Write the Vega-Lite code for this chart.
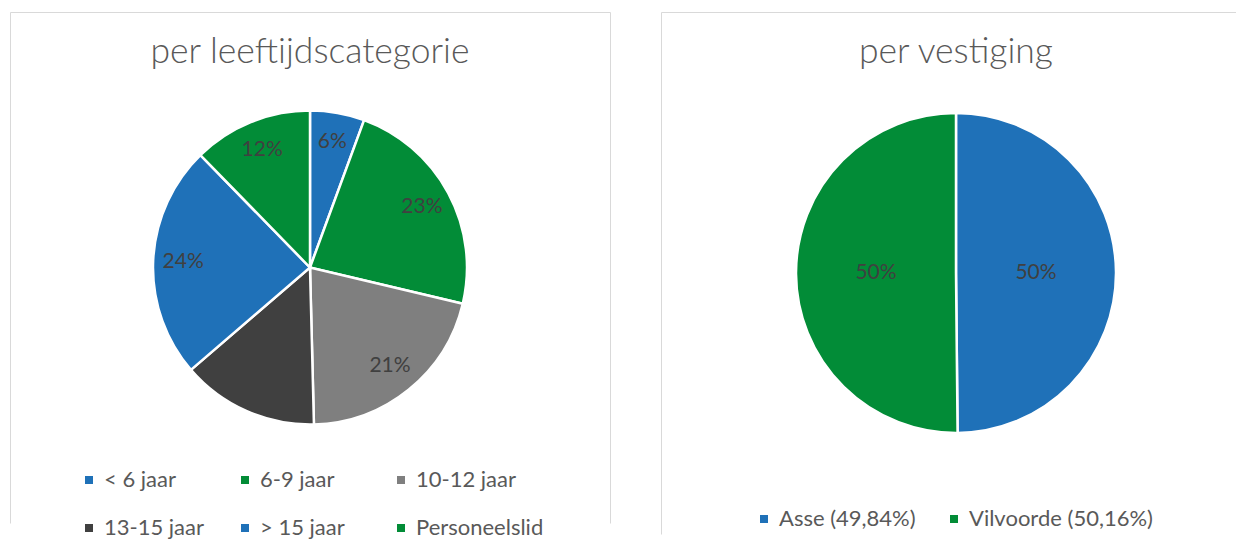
{
  "$schema": "https://vega.github.io/schema/vega-lite/v6.json",
  "background": "white",
  "padding": {"left": 9, "top": 11, "right": 0, "bottom": 0},
  "spacing": 49,
  "config": {
    "font": "Lato",
    "title": {"font": "Lato", "fontSize": 35.5, "fontWeight": 300, "color": "#595959", "anchor": "middle", "frame": "group", "baseline": "middle", "offset": -58},
    "legend": {"labelFont": "Lato", "labelFontSize": 22, "labelColor": "#595959", "symbolType": "square", "symbolSize": 64, "symbolStrokeWidth": 0, "labelOffset": 4, "padding": 0, "title": null, "labelLimit": 300}
  },
  "hconcat": [
    {
      "width": 600,
      "height": 511,
      "view": {"stroke": "#d9d9d9", "strokeWidth": 1, "strokeDash": [1111, 600, 511, 0]},
      "title": {"text": "per leeftijdscategorie"},
      "data": {"values": [
        {"categorie": "< 6 jaar", "aandeel": 0.056, "volgorde": 1},
        {"categorie": "6-9 jaar", "aandeel": 0.231, "volgorde": 2},
        {"categorie": "10-12 jaar", "aandeel": 0.209, "volgorde": 3},
        {"categorie": "13-15 jaar", "aandeel": 0.141, "volgorde": 4},
        {"categorie": "> 15 jaar", "aandeel": 0.240, "volgorde": 5},
        {"categorie": "Personeelslid", "aandeel": 0.123, "volgorde": 6}
      ]},
      "encoding": {
        "theta": {"field": "aandeel", "type": "quantitative", "stack": true},
        "order": {"field": "volgorde", "type": "quantitative"}
      },
      "layer": [
        {
          "mark": {"type": "arc", "outerRadius": 157, "stroke": "white", "strokeWidth": 2.5},
          "encoding": {
            "color": {
              "field": "categorie", "type": "nominal",
              "scale": {
                "domain": ["< 6 jaar", "6-9 jaar", "10-12 jaar", "13-15 jaar", "> 15 jaar", "Personeelslid"],
                "range": ["#1f71b8", "#028c37", "#7f7f7f", "#404040", "#1f71b8", "#028c37"]
              },
              "legend": {"orient": "none", "legendX": 68, "legendY": 457, "columns": 3, "direction": "horizontal", "gridAlign": "all", "columnPadding": 2, "rowPadding": 26}
            }
          }
        },
        {
          "mark": {"type": "text", "radius": 127, "font": "Lato", "fontSize": 21, "color": "#404040"},
          "encoding": {
            "text": {"field": "aandeel", "type": "quantitative", "format": ".0%"}
          }
        }
      ]
    },
    {
      "width": 590,
      "height": 522,
      "view": {"stroke": "#d9d9d9", "strokeWidth": 1, "strokeDash": [1112, 590, 522, 0]},
      "title": {"text": "per vestiging"},
      "data": {"values": [
        {"vestiging": "Asse (49,84%)", "aandeel": 0.4984, "volgorde": 1},
        {"vestiging": "Vilvoorde (50,16%)", "aandeel": 0.5016, "volgorde": 2}
      ]},
      "encoding": {
        "theta": {"field": "aandeel", "type": "quantitative", "stack": true},
        "order": {"field": "volgorde", "type": "quantitative"}
      },
      "layer": [
        {
          "mark": {"type": "arc", "outerRadius": 160, "stroke": "white", "strokeWidth": 2.5},
          "encoding": {
            "color": {
              "field": "vestiging", "type": "nominal",
              "scale": {"domain": ["Asse (49,84%)", "Vilvoorde (50,16%)"], "range": ["#1f71b8", "#028c37"]},
              "legend": {"orient": "none", "legendX": 92, "legendY": 496, "columns": 2, "direction": "horizontal", "columnPadding": 27}
            }
          }
        },
        {
          "mark": {"type": "text", "radius": 80, "font": "Lato", "fontSize": 21, "color": "#404040"},
          "encoding": {
            "text": {"field": "aandeel", "type": "quantitative", "format": ".0%"}
          }
        }
      ]
    }
  ],
  "resolve": {"scale": {"color": "independent", "theta": "independent"}}
}
